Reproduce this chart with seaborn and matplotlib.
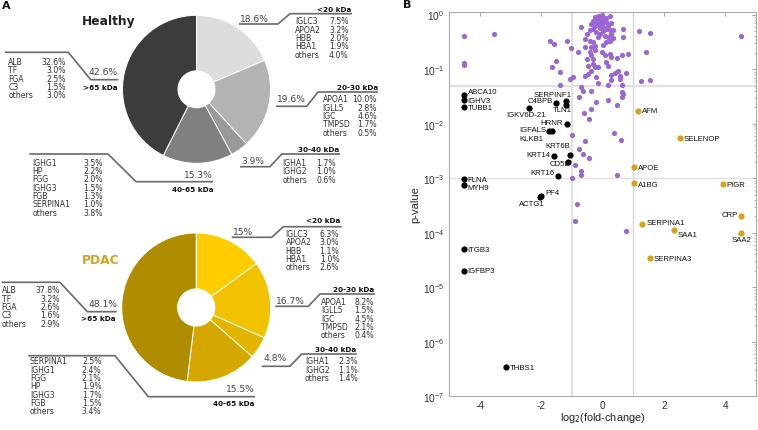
import numpy as np
import pandas as pd
import matplotlib
matplotlib.use("Agg")
import matplotlib.pyplot as plt
from matplotlib.ticker import LogLocator, LogFormatterSciNotation, NullFormatter
import seaborn as sns

sns.set_theme(style="white")
plt.rcParams["font.family"] = ["DejaVu Sans"]
plt.rcParams["axes.unicode_minus"] = False

# ---------------- Panel A data ----------------
mw_classes = ["<20 kDa", "20-30 kDa", "30-40 kDa", "40-65 kDa", ">65 kDa"]
healthy_pct = [18.6, 19.6, 3.9, 15.3, 42.6]
pdac_pct = [15.0, 16.7, 4.8, 15.5, 48.1]
healthy_pct_labels = ["18.6%", "19.6%", "3.9%", "15.3%", "42.6%"]
pdac_pct_labels = ["15%", "16.7%", "4.8%", "15.5%", "48.1%"]
healthy_colors = ["#dddddd", "#b3b3b3", "#999999", "#808080", "#3c3c3c"]
pdac_colors = ["#ffcc00", "#f2c200", "#e3b500", "#d4a800", "#b08d00"]

healthy_names = [
    ["IGLC3", "APOA2", "HBB", "HBA1", "others"],
    ["APOA1", "IGLL5", "IGC", "TMPSD", "others"],
    ["IGHA1", "IGHG2", "others"],
    ["IGHG1", "HP", "FGG", "IGHG3", "FGB", "SERPINA1", "others"],
    ["ALB", "TF", "FGA", "C3", "others"],
]
healthy_vals = [
    ["7.5%", "3.2%", "2.0%", "1.9%", "4.0%"],
    ["10.0%", "2.8%", "4.6%", "1.7%", "0.5%"],
    ["1.7%", "1.0%", "0.6%"],
    ["3.5%", "2.2%", "2.0%", "1.5%", "1.3%", "1.0%", "3.8%"],
    ["32.6%", "3.0%", "2.5%", "1.5%", "3.0%"],
]
pdac_names = [
    ["IGLC3", "APOA2", "HBB", "HBA1", "others"],
    ["APOA1", "IGLL5", "IGC", "TMPSD", "others"],
    ["IGHA1", "IGHG2", "others"],
    ["SERPINA1", "IGHG1", "FGG", "HP", "IGHG3", "FGB", "others"],
    ["ALB", "TF", "FGA", "C3", "others"],
]
pdac_vals = [
    ["6.3%", "3.0%", "1.1%", "1.0%", "2.6%"],
    ["8.2%", "1.5%", "4.5%", "2.1%", "0.4%"],
    ["2.3%", "1.1%", "1.4%"],
    ["2.5%", "2.4%", "2.1%", "1.9%", "1.7%", "1.5%", "3.4%"],
    ["37.8%", "3.2%", "2.6%", "1.6%", "2.9%"],
]

# ---------------- Panel B data ----------------
purple_fc = [-0.03, -0.14, -0.25, 0.02, 0.24, -0.31, -0.20, -0.09, 0.075, 0.13,
             0.29, -0.36, -0.25, -0.14, -0.03, 0.02, 0.13, 0.24, 0.35, 0.67,
             -0.69, -0.31, -0.41, -0.20, -0.09, 0.075, 0.18, 0.24, 0.13, -0.52,
             -0.58, -0.41, -0.31, -0.25, -0.36, -0.58, -1.01, -1.72, -1.59, -1.17,
             0.67, 1.19, 1.54, 1.43, -0.79, -0.41, -0.36, -0.31, -0.52, 0.075,
             0.24, 0.29, 0.46, 0.62, 0.84, 0.13, -1.50, -1.66, -0.31, -0.25,
             -0.14, -0.36, -0.47, -0.58, -1.39, -0.96, -1.07, -0.20, -0.14, 0.29,
             0.40, 0.51, 0.56, 0.78, 0.56, 0.29, 0.18, 0.62, 1.27, 1.54,
             -1.37, -0.69, -0.63, -0.36, 0.62, -0.09, 0.13, -0.20, 0.02, 0.18,
             -0.09, 0.29, 0.02, -0.14, 0.35, -0.25, 0.02, -0.46, 0.18, -0.03,
             0.67, 0.62, -0.76, -0.22, 0.18, 0.46, -0.36, -0.61, -0.44, -1.00,
             0.37, 0.59, -0.58, -0.76, -0.63, -0.44, -0.89, -0.685, -0.685, -0.98,
             0.48, -0.83, -0.88, 0.75, -4.52, -4.52, -4.52, -3.54, 4.50]
purple_log10p = [-0.01, -0.018, -0.048, -0.036, -0.018, -0.11, -0.079, -0.097, -0.079, -0.14,
                 -0.158, -0.17, -0.20, -0.17, -0.18, -0.23, -0.26, -0.29, -0.28, -0.26,
                 -0.22, -0.26, -0.29, -0.32, -0.35, -0.385, -0.415, -0.476, -0.507, -0.35,
                 -0.446, -0.476, -0.507, -0.568, -0.60, -0.587, -0.617, -0.476, -0.538, -0.476,
                 -0.415, -0.31, -0.34, -0.678, -0.69, -0.69, -0.75, -0.81, -0.81, -0.733,
                 -0.72, -0.77, -0.79, -0.733, -0.72, -0.874, -0.856, -0.966, -0.905, -0.966,
                 -0.954, -1.027, -1.088, -1.119, -1.057, -1.137, -1.18, -1.149, -1.259, -1.10,
                 -1.076, -1.027, -1.119, -1.076, -1.18, -1.198, -1.29, -1.30, -1.223, -1.198,
                 -1.284, -1.333, -1.406, -1.406, -1.424, -0.05, -0.06, -0.13, -0.12, -0.20,
                 -0.25, -0.35, -0.30, -0.42, -0.43, -0.65, -0.55, -0.95, -0.95, -0.68,
                 -1.455, -1.516, -1.516, -1.608, -1.565, -1.651, -1.73, -1.81, -1.914, -2.20,
                 -2.18, -2.30, -2.32, -2.46, -2.556, -2.63, -2.75, -2.87, -2.94, -3.00,
                 -2.95, -3.48, -3.785, -3.97, -0.40, -0.886, -0.917, -0.36, -0.40]

down_genes = ["ABCA10", "IGHV3", "TUBB1", "SERPINF1", "C4BPB", "TLN1", "IGKV6D-21",
              "HRNR", "IGFALS", "KLKB1", "KRT6B", "KRT14", "CD5L", "KRT16", "FLNA",
              "MYH9", "PF4", "ACTG1", "ITGB3", "IGFBP3", "THBS1"]
down_fc = [-4.52, -4.52, -4.52, -1.20, -1.50, -1.20, -2.39,
           -1.15, -1.74, -1.65, -1.06, -1.59, -1.11, -1.45, -4.52,
           -4.52, -1.99, -2.04, -4.51, -4.51, -3.13]
down_p = [0.034, 0.027, 0.020, 0.026, 0.0237, 0.022, 0.0197,
          0.0100, 0.0074, 0.0072, 0.0027, 0.0025, 0.0020, 0.0011, 0.00095,
          0.00075, 0.00047, 0.00045, 4.95e-5, 2.0e-5, 3.4e-7]

up_genes = ["AFM", "SELENOP", "APOE", "A1BG", "PIGR", "CRP", "SERPINA1", "SAA1",
            "SAA2", "SERPINA3"]
up_fc = [1.17, 2.52, 1.02, 1.02, 3.91, 4.50, 1.30, 2.33, 4.50, 1.54]
up_p = [0.0174, 0.0054, 0.0016, 0.0008, 0.00078, 0.0002, 0.000144, 0.000113,
        0.0001, 3.45e-5]

# label offsets (pixels) and alignment
label_style = {
    "ABCA10": (4, 3, "left"), "IGHV3": (4, 0, "left"), "TUBB1": (4, -0.5, "left"),
    "SERPINF1": (6, 6.7, "right"), "C4BPB": (-3.3, 2.7, "right"), "TLN1": (6, -4.7, "right"),
    "IGKV6D-21": (17, -6.7, "right"), "HRNR": (-4, 1.3, "right"), "IGFALS": (-2.7, 1.3, "right"),
    "KLKB1": (-8, -7, "right"), "KRT6B": (0, 8.7, "right"), "KRT14": (-3.3, 1.7, "right"),
    "CD5L": (1.3, -2, "right"), "KRT16": (-3.3, 3.7, "right"), "FLNA": (4, 0, "left"),
    "MYH9": (4, -2.7, "left"), "PF4": (4, 4, "left"), "ACTG1": (5, -6, "right"),
    "ITGB3": (3, 0, "left"), "IGFBP3": (3, 0, "left"), "THBS1": (3, 0, "left"),
    "AFM": (4, 0, "left"), "SELENOP": (4, 0, "left"), "APOE": (4, 0, "left"),
    "A1BG": (4, -0.7, "left"), "PIGR": (4, 0, "left"), "CRP": (-2.3, 2, "right"),
    "SERPINA1": (4, 1.3, "left"), "SAA1": (3.3, -5, "left"), "SAA2": (11, -6.3, "right"),
    "SERPINA3": (4, -0.7, "left"),
}

W, H = 758, 431
fig = plt.figure(figsize=(W / 100, H / 100), dpi=100)

# overlay axes in pixel coords for panel A annotations
ov = fig.add_axes([0, 0, 1, 1])
ov.set_xlim(0, W)
ov.set_ylim(H, 0)
ov.axis("off")


def add_pie(cx, cy, r, vals, colors):
    ax = fig.add_axes([(cx - r) / W, (H - cy - r) / H, 2 * r / W, 2 * r / H])
    ax.pie(vals, colors=colors, startangle=90, counterclock=False, radius=1,
           wedgeprops=dict(width=0.75, edgecolor="white", linewidth=0.7))
    ax.set_xlim(-1, 1)
    ax.set_ylim(-1, 1)
    ax.set_aspect("auto")
    ax.axis("off")
    return ax


add_pie(196.5, 90.3, 74, healthy_pct, healthy_colors)
add_pie(196.2, 308.5, 74.5, pdac_pct, pdac_colors)

LC = "#6a6a6a"
TXT = "#333333"
DY = 8.33


def group(pct, pct_xy, pct_ha, line, header, header_xy, names, vals, name_x, val_x, row0):
    xs, ys = zip(*line)
    ov.plot(xs, ys, color=LC, lw=1.2, solid_capstyle="butt")
    ov.text(pct_xy[0], pct_xy[1], pct, ha=pct_ha, va="center", fontsize=6.6, color="#444444")
    ov.text(header_xy[0], header_xy[1], header, ha="right", va="center", fontsize=5.2,
            fontweight="bold", color="#111111")
    for i, (n, v) in enumerate(zip(names, vals)):
        y = row0 + i * DY
        ov.text(name_x, y, n, ha="left", va="center", fontsize=5.6, color=TXT)
        ov.text(val_x, y, v, ha="right", va="center", fontsize=5.6, color=TXT)


# Healthy
group(healthy_pct_labels[0], (240, 19), "left", [(239, 25), (278, 25), (290, 14.7), (352, 14.7)],
      mw_classes[0], (351, 9.6), healthy_names[0], healthy_vals[0], 295, 348.5, 22)
group(healthy_pct_labels[1], (277, 100), "left", [(276, 107.3), (306.7, 107.3), (318, 93), (378, 93)],
      mw_classes[1], (378, 88), healthy_names[1], healthy_vals[1], 322.7, 377, 100)
group(healthy_pct_labels[2], (241, 162), "left", [(240, 167.7), (270, 167.7), (281.7, 155), (340, 155)],
      mw_classes[2], (339.5, 150.3), healthy_names[2], healthy_vals[2], 282.7, 336, 163.5)
group(healthy_pct_labels[3], (212.5, 176), "right", [(213, 182.7), (136, 182.7), (108, 155), (29.3, 155)],
      mw_classes[3], (213, 190), healthy_names[3], healthy_vals[3], 32.3, 103, 163.3)
group(healthy_pct_labels[4], (118, 72.7), "right", [(118.3, 80.7), (90.7, 80.7), (68.3, 53.3), (5, 53.3)],
      mw_classes[4], (118, 87.5), healthy_names[4], healthy_vals[4], 8.3, 66, 62.5)

# PDAC
group(pdac_pct_labels[0], (232.7, 232.3), "left", [(231.7, 238.3), (271.7, 238.3), (283.3, 227.7), (341.7, 227.7)],
      mw_classes[0], (340.7, 221.5), pdac_names[0], pdac_vals[0], 285.7, 339.3, 234.5)
group(pdac_pct_labels[1], (276, 301.7), "left", [(275.3, 307.3), (308.3, 307.3), (320, 295), (375, 295)],
      mw_classes[1], (374.5, 290), pdac_names[1], pdac_vals[1], 321, 374, 302.5)
group(pdac_pct_labels[2], (263, 359), "left", [(261.7, 367.3), (290, 367.3), (301.7, 355), (356.7, 355)],
      mw_classes[2], (356, 350.3), pdac_names[2], pdac_vals[2], 305, 358, 362)
group(pdac_pct_labels[3], (254.5, 390), "right", [(255, 397.7), (148.3, 397.7), (115, 356.7), (28.3, 356.7)],
      mw_classes[3], (254.5, 404), pdac_names[3], pdac_vals[3], 30, 101.5, 362)
group(pdac_pct_labels[4], (117, 305), "right", [(116.7, 312.7), (87.3, 312.7), (60, 283.3), (1.7, 283.3)],
      mw_classes[4], (115.5, 319), pdac_names[4], pdac_vals[4], 1.7, 59.5, 291)

ov.text(108.5, 21.7, "Healthy", ha="center", va="center", fontsize=8.8, fontweight="bold", color="#222222")
ov.text(100.3, 260.7, "PDAC", ha="center", va="center", fontsize=8.8, fontweight="bold", color="#d9a11a")
ov.text(6.7, 6, "A", ha="center", va="center", fontsize=8, fontweight="bold", color="#111111")
ov.text(407.5, 5.5, "B", ha="center", va="center", fontsize=8, fontweight="bold", color="#111111")

# ---------------- Panel B: volcano ----------------
ax = fig.add_axes([449 / W, (H - 397.3) / H, (756 - 449) / W, (397.3 - 12.7) / H])
ax.set_yscale("log")

dfp = pd.DataFrame({"fc": purple_fc, "p": 10 ** np.array(purple_log10p)})
dfd = pd.DataFrame({"fc": down_fc, "p": down_p, "gene": down_genes})
dfu = pd.DataFrame({"fc": up_fc, "p": up_p, "gene": up_genes})

for xv, c, lw in [(-1, "#e2e2e2", 1.6), (1, "#d8d8d8", 1.0)]:
    ax.axvline(xv, color=c, lw=lw, zorder=0)
ax.axhline(0.05, color="#e2e2e2", lw=1.6, zorder=0)
ax.axhline(0.001, color="#e2e2e2", lw=1.0, zorder=0)

sns.scatterplot(data=dfp, x="fc", y="p", ax=ax, color="#9b67d6", s=14, linewidth=0, zorder=3)
sns.scatterplot(data=dfd, x="fc", y="p", ax=ax, color="#000000", s=20, linewidth=0, zorder=4)
sns.scatterplot(data=dfu, x="fc", y="p", ax=ax, color="#d9a11a", s=20, linewidth=0, zorder=4)

lab_font = dict(family=["Liberation Sans", "DejaVu Sans"], fontsize=5.6, color="#111111")
for df in (dfd, dfu):
    for _, r in df.iterrows():
        dx, dy, ha = label_style[r["gene"]]
        ax.annotate(r["gene"], (r["fc"], r["p"]), xytext=(dx, dy), textcoords="offset pixels",
                    ha=ha, va="center", zorder=5, **lab_font)

ax.set_xlim(-5, 5)
ax.set_ylim(1e-7, 1.13)
ax.set_xticks([-4, -2, 0, 2, 4])
ax.yaxis.set_major_locator(LogLocator(base=10, numticks=20))
ax.yaxis.set_minor_locator(LogLocator(base=10, subs=np.arange(2, 10), numticks=20))
ax.yaxis.set_minor_formatter(NullFormatter())
ax.yaxis.set_major_formatter(LogFormatterSciNotation())
ax.tick_params(which="both", direction="in", top=True, right=True, colors="#999999",
               labelcolor="#333333", labelsize=7.3)
ax.tick_params(axis="x", which="major", pad=2.5)
ax.tick_params(which="major", length=3, width=0.6)
ax.tick_params(which="minor", length=1.6, width=0.5)
for lbl in ax.get_xticklabels() + ax.get_yticklabels():
    lbl.set_family(["Liberation Sans", "DejaVu Sans"])
for sp in ax.spines.values():
    sp.set_color("#aaaaaa")
    sp.set_linewidth(0.8)
ax.set_xlabel("log$_2$(fold-change)", fontsize=7.8, color="#222222", family=["Liberation Sans"], labelpad=0)
ax.set_ylabel("p-value", fontsize=8, color="#222222", family=["Liberation Sans"], labelpad=2)
ax.grid(False)

fig.savefig("out.png", dpi=100)
